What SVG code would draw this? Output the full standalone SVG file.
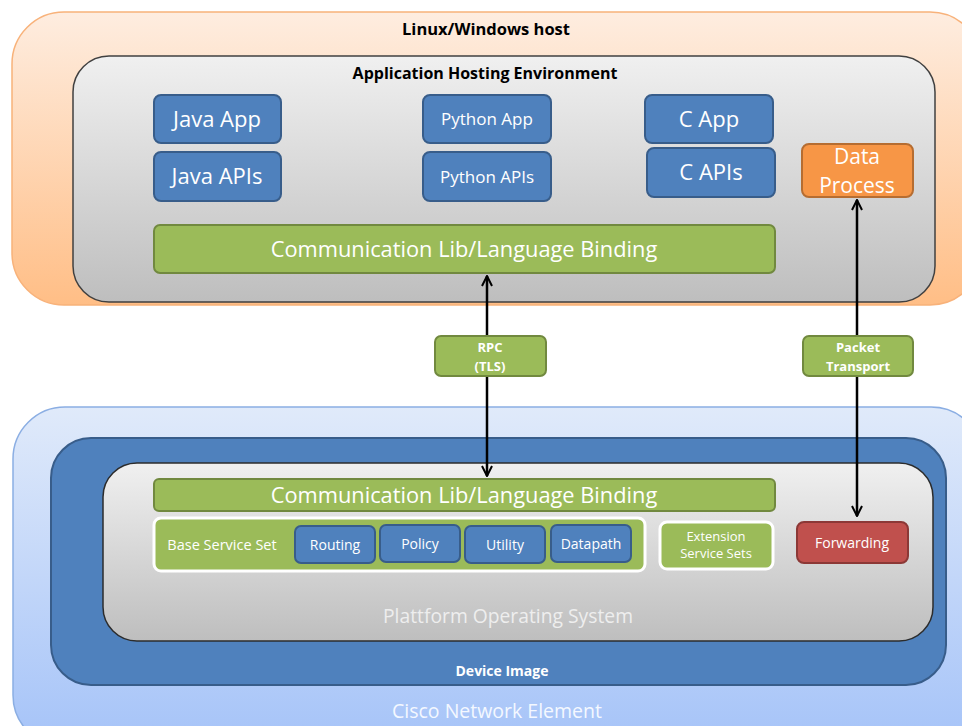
<svg xmlns="http://www.w3.org/2000/svg" width="962" height="726" viewBox="0 0 962 726">
<defs>
<linearGradient id="gOrange" x1="0" y1="0" x2="0" y2="1"><stop offset="0" stop-color="#FEEDE0"/><stop offset="1" stop-color="#FFBE86"/></linearGradient>
<linearGradient id="gGray" x1="0" y1="0" x2="0" y2="1"><stop offset="0" stop-color="#F0F0F0"/><stop offset="1" stop-color="#BEBEBE"/></linearGradient>
<linearGradient id="gBlue" x1="0" y1="0" x2="0" y2="1"><stop offset="0" stop-color="#E0EAFA"/><stop offset="1" stop-color="#A5C3F8"/></linearGradient>
<marker id="ah" viewBox="0 0 12 12" refX="11" refY="6" markerWidth="12" markerHeight="12" markerUnits="userSpaceOnUse" orient="auto-start-reverse"><path d="M1,1 L11,6 L1,11" fill="none" stroke="#000" stroke-width="2"/></marker>
</defs>
<style>
text{font-family:"Open Sans","Liberation Sans",sans-serif;text-anchor:middle;}
.blue{fill:#4F81BD;stroke:#385D8A;stroke-width:2;}
.green{fill:#9BBB59;stroke:#71893F;stroke-width:2;}
.wg{fill:#9BBB59;stroke:#FFFFFF;stroke-width:3;}
.wt{fill:#FFFFFF;}
.title{font-weight:bold;fill:#000;}
.conn{stroke:#000;stroke-width:2.5;fill:none;marker-start:url(#ah);marker-end:url(#ah);}
</style>
<g id="host">
<rect x="12" y="12" width="970" height="293" rx="52" fill="url(#gOrange)" stroke="#F8B27A" stroke-width="1.5"/>
<text x="486" y="35" class="title" font-size="16.5">Linux/Windows host</text>
</g>
<g id="ahe">
<rect x="73" y="56" width="862" height="246" rx="36" fill="url(#gGray)" stroke="#404040" stroke-width="1.5"/>
<text x="485" y="79" class="title" font-size="16">Application Hosting Environment</text>
</g>
<g id="java-app"><rect x="154" y="95" width="127" height="48" rx="7" class="blue"/><text x="217" y="127" class="wt" font-size="22">Java App</text></g>
<g id="java-apis"><rect x="154" y="152" width="127" height="49" rx="7" class="blue"/><text x="217" y="184" class="wt" font-size="22">Java APIs</text></g>
<g id="python-app"><rect x="423" y="95" width="128" height="48" rx="7" class="blue"/><text x="487" y="125" class="wt" font-size="17">Python App</text></g>
<g id="python-apis"><rect x="423" y="152" width="128" height="49" rx="7" class="blue"/><text x="487" y="183" class="wt" font-size="17">Python APIs</text></g>
<g id="c-app"><rect x="645" y="95" width="128" height="48" rx="7" class="blue"/><text x="709" y="127" class="wt" font-size="22">C App</text></g>
<g id="c-apis"><rect x="647" y="148" width="128" height="49" rx="7" class="blue"/><text x="711" y="180" class="wt" font-size="22">C APIs</text></g>
<g id="data-process"><rect x="802" y="144" width="111" height="53" rx="7" fill="#F79646" stroke="#B66D31" stroke-width="2"/><text x="857" y="164" class="wt" font-size="21">Data</text><text x="857" y="193" class="wt" font-size="21">Process</text></g>
<g id="comm-top"><rect x="154" y="225" width="621" height="48" rx="6" class="green"/><text x="464" y="257" class="wt" font-size="21.8">Communication Lib/Language Binding</text></g>
<g id="cne">
<rect x="13" y="407" width="970" height="340" rx="52" fill="url(#gBlue)" stroke="#8BAEE3" stroke-width="1.5"/>
<text x="497" y="718" fill="#F4F8FF" font-size="19.5">Cisco Network Element</text>
</g>
<g id="device-image">
<rect x="51" y="438" width="895" height="247" rx="40" fill="#4F81BD" stroke="#385D8A" stroke-width="2"/>
<text x="502" y="676" class="wt" font-size="14" font-weight="bold">Device Image</text>
</g>
<g id="pos">
<rect x="103" y="463" width="830" height="178" rx="34" fill="url(#gGray)" stroke="#2C2C2C" stroke-width="1.5"/>
<text x="508" y="623" fill="#EEEEEE" font-size="19.3">Plattform Operating System</text>
</g>
<g id="comm-bottom"><rect x="154" y="479" width="621" height="32" rx="5" class="green"/><text x="464" y="503" class="wt" font-size="21.8">Communication Lib/Language Binding</text></g>
<g id="base-service-set">
<rect x="154" y="518" width="491" height="53" rx="7" class="wg"/>
<text x="222" y="550" class="wt" font-size="14.5">Base Service Set</text>
</g>
<g id="routing"><rect x="295" y="526" width="80" height="37" rx="6" class="blue"/><text x="335" y="550" class="wt" font-size="14">Routing</text></g>
<g id="policy"><rect x="380" y="525" width="80" height="37" rx="6" class="blue"/><text x="420" y="549" class="wt" font-size="14">Policy</text></g>
<g id="utility"><rect x="465" y="526" width="80" height="37" rx="6" class="blue"/><text x="505" y="550" class="wt" font-size="14">Utility</text></g>
<g id="datapath"><rect x="551" y="525" width="80" height="37" rx="6" class="blue"/><text x="591" y="549" class="wt" font-size="14">Datapath</text></g>
<g id="extension"><rect x="660" y="522" width="113" height="47" rx="7" class="wg"/><text x="716" y="541" class="wt" font-size="13">Extension</text><text x="716" y="558" class="wt" font-size="13">Service Sets</text></g>
<g id="forwarding"><rect x="797" y="522" width="111" height="41" rx="7" fill="#C0504D" stroke="#8C3836" stroke-width="2"/><text x="852" y="548" class="wt" font-size="14">Forwarding</text></g>
<g id="connectors">
<line x1="487" y1="276" x2="487" y2="476" class="conn"/>
<line x1="857" y1="200" x2="857" y2="516" class="conn"/>
</g>
<g id="rpc"><rect x="435" y="336" width="111" height="40" rx="6" class="green"/><text x="490" y="352" class="wt" font-size="13" font-weight="bold">RPC</text><text x="490" y="371" class="wt" font-size="13" font-weight="bold">(TLS)</text></g>
<g id="packet-transport"><rect x="803" y="336" width="110" height="40" rx="6" class="green"/><text x="858" y="352" class="wt" font-size="13" font-weight="bold">Packet</text><text x="858" y="371" class="wt" font-size="13" font-weight="bold">Transport</text></g>
</svg>
